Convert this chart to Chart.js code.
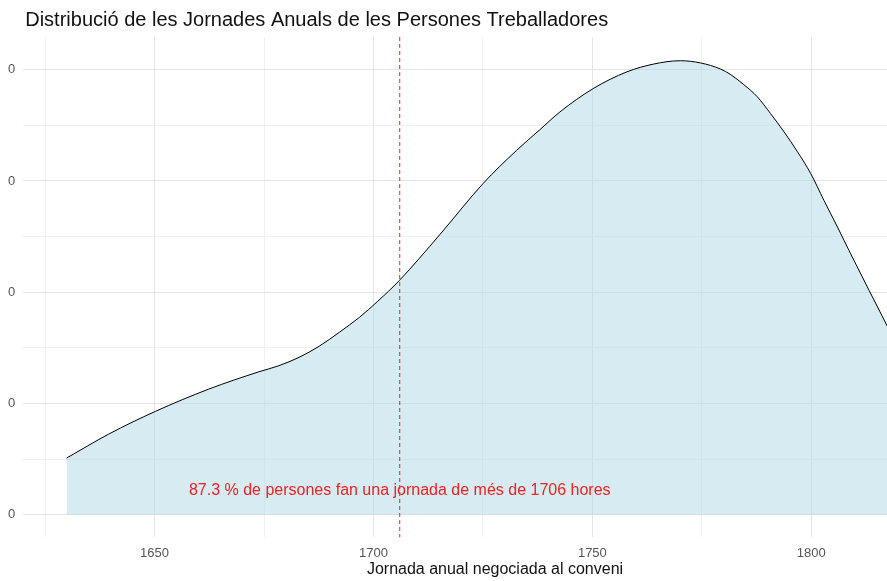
<!DOCTYPE html>
<html>
<head>
<meta charset="utf-8">
<script src="https://cdn.jsdelivr.net/npm/chart.js@4/dist/chart.umd.min.js"></script>
<style>
  html, body { margin: 0; padding: 0; background: #fff; }
  #wrap { width: 887px; height: 581px; }
</style>
</head>
<body>
<div id="wrap"><canvas id="densityChart"></canvas></div>
<script>
// Density curve (hours, density)
var hours = [1629.9, 1639.5, 1650.2, 1662.4, 1673.8, 1678.4, 1683.0, 1687.6, 1692.2, 1696.8,
             1701.0, 1705.9, 1715.1, 1725.0, 1732.7, 1738.0, 1742.6, 1750.2, 1757.9, 1764.0,
             1770.1, 1774.7, 1779.3, 1781.6, 1784.6, 1787.7, 1790.7, 1793.8, 1796.8, 1799.9,
             1802.9, 1806.0, 1809.0, 1817.5];
var density = [0.00102, 0.00145, 0.00186, 0.00226, 0.00257, 0.00268, 0.00283, 0.00303, 0.00328, 0.00355,
               0.00384, 0.00421, 0.00503, 0.00595, 0.00655, 0.00692, 0.00724, 0.00766, 0.00796, 0.00810,
               0.00816, 0.00812, 0.00801, 0.00791, 0.00773, 0.00751, 0.00721, 0.00688, 0.00653, 0.00613,
               0.00565, 0.00517, 0.00469, 0.00337];

var xTicks = [1625, 1650, 1675, 1700, 1725, 1750, 1775, 1800];
var xLabels = [1650, 1700, 1750, 1800];
var yTicks = [0, 0.001, 0.002, 0.003, 0.004, 0.005, 0.006, 0.007, 0.008];
var yMajor = [0, 0.002, 0.004, 0.006, 0.008];

var cutoff = 1706;
var noteY = 0.00044;
var noteText = '87.3 % de persones fan una jornada de més de 1706 hores';
var titleText = 'Distribució de les Jornades Anuals de les Persones Treballadores';
var xTitle = 'Jornada anual negociada al conveni';

var points = hours.map(function (h, i) { return { x: h, y: density[i] }; });

var FONT = '"Liberation Sans", Arial, sans-serif';

// Draws the title, the cutoff line, the note and the x-axis title
var extras = {
    id: 'extras',
    afterDatasetsDraw: function (chart) {
        var ctx = chart.ctx;
        var area = chart.chartArea;
        var xs = chart.scales.x;
        var ys = chart.scales.y;
        var cx = xs.getPixelForValue(cutoff);

        ctx.save();
        ctx.strokeStyle = '#ee2222';
        ctx.lineWidth = 1;
        ctx.setLineDash([4, 3]);
        ctx.beginPath();
        ctx.moveTo(cx, area.top);
        ctx.lineTo(cx, area.bottom);
        ctx.stroke();
        ctx.setLineDash([]);

        ctx.fillStyle = '#ee2222';
        ctx.font = '16px ' + FONT;
        ctx.textAlign = 'center';
        ctx.textBaseline = 'middle';
        ctx.fillText(noteText, cx, ys.getPixelForValue(noteY));

        ctx.fillStyle = '#111';
        ctx.font = '20px ' + FONT;
        ctx.textAlign = 'left';
        ctx.fillText(titleText, area.left + 2, 20);

        ctx.font = '16px ' + FONT;
        ctx.textAlign = 'center';
        ctx.fillText(xTitle, 495, 570);
        ctx.restore();
    }
};

var ctx = document.getElementById('densityChart').getContext('2d');

var densityChart = new Chart(ctx, {
    type: 'line',
    data: {
        datasets: [{
            data: points,
            borderColor: '#000',
            borderWidth: 1,
            backgroundColor: 'rgba(173, 216, 230, 0.5)',
            fill: 'origin',
            pointRadius: 0,
            cubicInterpolationMode: 'monotone'
        }]
    },
    options: {
        responsive: true,
        maintainAspectRatio: false,
        animation: false,
        layout: { padding: { left: 0, right: 0, top: 37, bottom: 12 } },
        plugins: {
            legend: { display: false },
            tooltip: { enabled: false }
        },
        scales: {
            x: {
                type: 'linear',
                min: 1620,
                max: 1817.3,
                afterBuildTicks: function (axis) {
                    axis.ticks = xTicks.map(function (v) { return { value: v }; });
                },
                grid: {
                    drawTicks: false,
                    color: function (c) {
                        return xLabels.indexOf(c.tick.value) >= 0 ? '#e4e4e4' : '#f0f0f0';
                    }
                },
                border: { display: false },
                ticks: {
                    padding: 8,
                    maxRotation: 0,
                    autoSkip: false,
                    color: '#555',
                    font: { family: FONT, size: 13 },
                    callback: function (v) { return xLabels.indexOf(v) >= 0 ? String(v) : ''; }
                }
            },
            y: {
                min: -0.000405,
                max: 0.008586,
                afterBuildTicks: function (axis) {
                    axis.ticks = yTicks.map(function (v) { return { value: v }; });
                },
                grid: {
                    drawTicks: false,
                    color: function (c) {
                        return yMajor.indexOf(c.tick.value) >= 0 ? '#e4e4e4' : '#f0f0f0';
                    }
                },
                border: { display: false },
                ticks: {
                    padding: 8,
                    autoSkip: false,
                    color: '#555',
                    font: { family: FONT, size: 13 },
                    callback: function (v) { return yMajor.indexOf(v) >= 0 ? String(Math.round(v)) : ''; }
                }
            }
        }
    },
    plugins: [extras]
});
</script>
</body>
</html>
